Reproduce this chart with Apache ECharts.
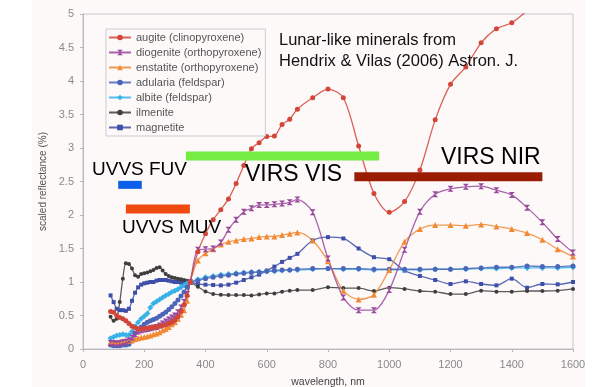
<!DOCTYPE html>
<html>
<head>
<meta charset="utf-8">
<script src="https://cdn.jsdelivr.net/npm/echarts@6/dist/echarts.min.js"></script>
<style>
html,body{margin:0;padding:0;background:#ffffff;}
#chart{width:592px;height:387px;}
</style>
</head>
<body>
<div id="chart"></div>
<script>
// ---------- data ----------
const waveUV = [90,100,110,120,130,140,150,160,170,180,190,200,210,220,230,240,250,260,270,280,290,300,310,320,330,340];
const waveVNIR = [350,375,400,425,450,475,500,525,550,575,600,625,650,675,700,750,800,850,900,950,1000,1050,1100,1150,1200,1250,1300,1350,1400,1450,1500,1550,1600];

const seriesNames = ['augite (clinopyroxene)','diogenite (orthopyroxene)','enstatite (orthopyroxene)','adularia (feldspar)','albite (feldspar)','ilmenite','magnetite'];

const augiteUV = [0.56,0.55,0.50,0.47,0.45,0.42,0.38,0.34,0.32,0.30,0.30,0.31,0.31,0.32,0.32,0.33,0.34,0.35,0.36,0.38,0.40,0.43,0.48,0.56,0.66,0.80];
const augiteVNIR = [1.00,1.45,1.72,1.93,2.08,2.24,2.47,2.74,2.99,3.08,3.17,3.18,3.35,3.43,3.58,3.75,3.88,3.75,3.03,2.32,2.04,2.20,2.67,3.42,3.95,4.21,4.57,4.78,4.87,5.05,null,null,null];

const diogeniteUV = [0.09,0.09,0.08,0.09,0.10,0.11,0.13,0.17,0.22,0.26,0.28,0.29,0.30,0.31,0.32,0.33,0.35,0.38,0.41,0.44,0.47,0.50,0.55,0.62,0.70,0.82];
const diogeniteVNIR = [1.00,1.48,1.49,1.50,1.59,1.78,1.93,2.05,2.10,2.15,2.15,2.16,2.17,2.19,2.23,2.04,1.35,0.77,0.58,0.58,0.88,1.48,2.05,2.31,2.39,2.42,2.43,2.37,2.30,2.11,1.89,1.64,1.44];

const enstatiteUV = [0.10,0.10,0.10,0.10,0.11,0.12,0.12,0.13,0.15,0.16,0.17,0.18,0.19,0.20,0.22,0.23,0.25,0.28,0.30,0.33,0.37,0.40,0.45,0.51,0.58,0.72];
const enstatiteVNIR = [1.00,1.32,1.43,1.49,1.56,1.60,1.62,1.64,1.65,1.67,1.68,1.68,1.70,1.72,1.74,1.62,1.31,0.87,0.74,0.81,1.18,1.60,1.79,1.85,1.85,1.84,1.86,1.83,1.79,1.73,1.63,1.49,1.38];

const adulariaUV = [0.06,0.05,0.05,0.05,0.06,0.06,0.07,0.12,0.24,0.30,0.33,0.37,0.40,0.42,0.44,0.46,0.49,0.52,0.55,0.59,0.63,0.68,0.73,0.79,0.85,0.92];
const adulariaVNIR = [1.00,1.02,1.05,1.07,1.09,1.10,1.12,1.13,1.14,1.15,1.16,1.17,1.18,1.18,1.19,1.20,1.20,1.20,1.20,1.19,1.19,1.19,1.19,1.19,1.19,1.20,1.21,1.22,1.22,1.24,1.23,1.23,1.24];

const albiteUV = [0.16,0.18,0.20,0.21,0.22,0.21,0.21,0.26,0.34,0.40,0.45,0.49,0.53,0.62,0.68,0.71,0.74,0.77,0.80,0.82,0.85,0.87,0.89,0.92,0.95,0.98];
const albiteVNIR = [1.00,1.04,1.07,1.09,1.11,1.12,1.13,1.14,1.15,1.15,1.16,1.16,1.17,1.18,1.18,1.19,1.20,1.19,1.19,1.18,1.18,1.18,1.18,1.19,1.19,1.19,1.20,1.20,1.21,1.21,1.21,1.21,1.22];

const ilmeniteUV = [0.48,0.42,0.45,0.70,1.05,1.28,1.27,1.20,1.10,1.08,1.12,1.13,1.14,1.16,1.18,1.21,1.22,1.17,1.12,1.09,1.07,1.06,1.05,1.04,1.03,1.02];
const ilmeniteVNIR = [1.00,0.93,0.86,0.82,0.81,0.805,0.805,0.805,0.80,0.815,0.83,0.83,0.855,0.87,0.88,0.88,0.92,0.91,0.91,0.866,0.915,0.896,0.866,0.856,0.82,0.82,0.87,0.856,0.856,0.866,0.866,0.87,0.896];

const magnetiteUV = [0.80,0.70,0.60,0.58,0.58,0.57,0.60,0.72,0.84,0.92,0.96,0.98,0.99,1.00,1.00,1.02,1.03,1.03,1.03,1.02,1.01,1.00,1.00,0.99,0.99,0.99];
const magnetiteVNIR = [1.00,0.97,0.96,0.955,0.95,0.96,0.99,1.03,1.07,1.11,1.17,1.23,1.30,1.36,1.42,1.62,1.67,1.65,1.50,1.37,1.34,1.17,1.09,1.03,0.97,1.01,0.97,0.95,1.05,0.915,0.97,0.965,1.00];

// instrument bands
const bandNames = ['UVVS FUV','UVVS MUV','VIRS VIS','VIRS NIR'];
const bandStart = [115,140,336,886];
const bandEnd = [192,349,967,1500];
const bandLevel = [2.45,2.09,2.88,2.57];

const xTicks = [0,200,400,600,800,1000,1200,1400,1600];
const yTicks = [0,0.5,1,1.5,2,2.5,3,3.5,4,4.5,5];

// ---------- styles ----------
const FONT = '"Liberation Sans", Arial, Helvetica, sans-serif';
const colors = ['#d2463a','#98489c','#f08a35','#4b66b8','#36b2e8','#3e3e3e','#3d4fa8'];
const symbols = ['circle','path://M0,0L10,0L0,10L10,10Z','triangle','circle','diamond','circle','rect'];
const symSizes = [5,6,6,5,6,4,4];
const uvSets = [augiteUV,diogeniteUV,enstatiteUV,adulariaUV,albiteUV,ilmeniteUV,magnetiteUV];
const vnirSets = [augiteVNIR,diogeniteVNIR,enstatiteVNIR,adulariaVNIR,albiteVNIR,ilmeniteVNIR,magnetiteVNIR];
const bandColors = ['#0b5fe9','#ef4a12','#74ec42','#9a1c05'];
const bandWidths = [8,9,9,9];
const drawOrder = [6,5,4,3,2,1,0];

const series = [];
drawOrder.forEach(function(k){
  const data = waveUV.map((w,i)=>[w, uvSets[k][i]]).concat(waveVNIR.map((w,i)=>[w, vnirSets[k][i]]));
  series.push({
    name: seriesNames[k], type:'line', data: data, smooth: 0.3, clip: true,
    symbol: symbols[k], symbolSize: symSizes[k], showSymbol: true,
    lineStyle:{color: colors[k], width: 1.3, opacity: 0.85},
    itemStyle:{color: colors[k]},
    emphasis:{disabled:true}, animation:false, z: 2
  });
});
bandNames.forEach(function(n,i){
  series.push({
    name: n, type:'line', data: [[bandStart[i], bandLevel[i]],[bandEnd[i], bandLevel[i]]],
    symbol:'none', lineStyle:{color: bandColors[i], width: bandWidths[i], cap:'butt'},
    emphasis:{disabled:true}, animation:false, z: 5, silent:true
  });
});

const chart = echarts.init(document.getElementById('chart'), null, {renderer:'canvas'});
chart.setOption({
  animation:false,
  backgroundColor:'#ffffff',
  textStyle:{fontFamily: FONT},
  grid:{left:83, right:19, top:14, bottom:38, outerBoundsMode:'none', containLabel:false,
        show:true, borderColor:'#c3c7cb', borderWidth:1, backgroundColor:'transparent'},
  graphic:[
    {type:'rect', silent:true, z:-10, shape:{x:32,y:0,width:553,height:387}, style:{fill:'#fdf9f9'}},
    {type:'text', left:279, top:32, z:10, style:{text:'Lunar-like minerals from', font:'16.5px '+FONT, fill:'#111'}},
    {type:'text', left:279, top:53, z:10, style:{text:'Hendrix & Vilas (2006) Astron. J.', font:'16.5px '+FONT, fill:'#111'}},
    {type:'text', left:92, top:160, z:10, style:{text:bandNames[0], font:'19px '+FONT, fill:'#000'}},
    {type:'text', left:122, top:218, z:10, style:{text:bandNames[1], font:'19px '+FONT, fill:'#000'}},
    {type:'text', left:245, top:163, z:10, style:{text:bandNames[2], font:'23px '+FONT, fill:'#000'}},
    {type:'text', left:441, top:146, z:10, style:{text:bandNames[3], font:'23px '+FONT, fill:'#000'}}
  ],
  legend:{
    data: seriesNames, orient:'vertical', left:106, top:29,
    padding:[3,4,3,2], itemGap:4, itemWidth:22, itemHeight:7,
    borderColor:'#c8cdd2', borderWidth:1, backgroundColor:'#fdf9f9',
    textStyle:{fontSize:11, color:'#555', fontFamily:FONT},
    selectedMode:false
  },
  xAxis:{
    type:'value', min:xTicks[0], max:xTicks[xTicks.length-1], interval:200,
    name:'wavelength, nm', nameLocation:'middle', nameGap:28,
    nameTextStyle:{fontSize:10.5, color:'#444', fontFamily:FONT},
    axisLine:{show:true, lineStyle:{color:'#b5b9bd'}},
    axisTick:{show:true, length:3, lineStyle:{color:'#b5b9bd'}},
    axisLabel:{fontSize:11, color:'#8a8a8a', margin:10, fontFamily:FONT, formatter: v => String(v)},
    splitLine:{show:false}
  },
  yAxis:{
    type:'value', min:yTicks[0], max:yTicks[yTicks.length-1], interval:0.5,
    name:'scaled reflectance (%)', nameLocation:'middle', nameGap:21,
    nameTextStyle:{fontSize:10, color:'#555', fontFamily:FONT},
    axisLine:{show:true, lineStyle:{color:'#b5b9bd'}},
    axisTick:{show:true, length:3, lineStyle:{color:'#b5b9bd'}},
    axisLabel:{fontSize:11, color:'#8a8a8a', margin:9, fontFamily:FONT, formatter: v => String(v)},
    splitLine:{show:false}
  },
  series: series
});
</script>
</body>
</html>
